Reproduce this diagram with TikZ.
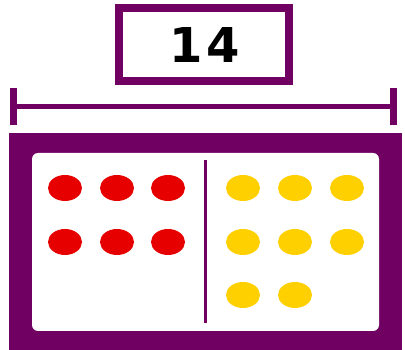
\documentclass[tikz,border=0pt]{standalone}
\usepackage{fontspec}
\setmainfont{DejaVu Sans}
\definecolor{frameP}{RGB}{112,0,98}
\definecolor{dotR}{RGB}{230,0,0}
\definecolor{dotY}{RGB}{255,208,0}
\begin{document}
\begin{tikzpicture}[x=1pt,y=-1pt,
  reddot/.style={fill=dotR,draw=none},
  yeldot/.style={fill=dotY,draw=none},
  pline/.style={draw=frameP}]
\useasboundingbox (0,0) rectangle (405,350);
% number box
\draw[pline,line width=8,fill=white] (119,8) rectangle (289,81);
\node[text=black,font=\fontsize{48}{48}\bfseries\selectfont\addfontfeature{LetterSpace=8}] (num) at (205,45) {14};
% dimension line
\coordinate (dl) at (13,107);
\coordinate (dr) at (393,107);
\draw[pline,line width=5] (dl) -- (dr);
\draw[pline,line width=7] (13,88) -- (13,125);
\draw[pline,line width=7] (393,88) -- (393,125);
% frame
\fill[frameP] (9,133) rectangle (402,350);
\fill[white,rounded corners=6] (32,153) rectangle (379,331);
\draw[pline,line width=3] (205,160) -- (205,323);
% red dots
\foreach \x in {65,117,168}{
  \foreach \y in {188,242}{
    \fill[reddot] (\x,\y) ellipse [x radius=17,y radius=13];
  }
}
% yellow dots
\foreach \x in {243,295,347}{
  \foreach \y in {188,242}{
    \fill[yeldot] (\x,\y) ellipse [x radius=17,y radius=13];
  }
}
\foreach \x in {243,295}{
  \fill[yeldot] (\x,295) ellipse [x radius=17,y radius=13];
}
\end{tikzpicture}
\end{document}
